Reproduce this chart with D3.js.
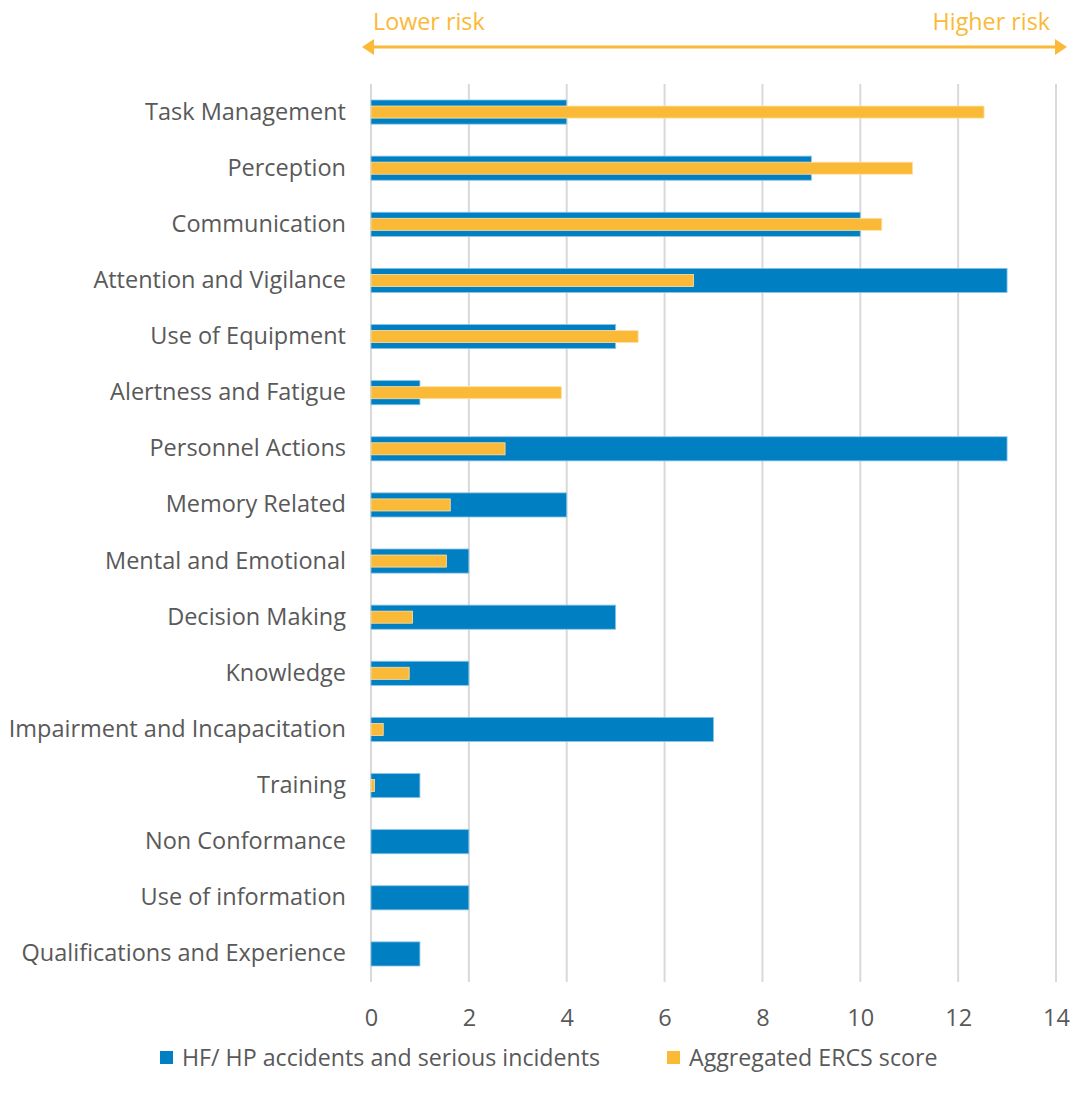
<!DOCTYPE html>
<html>
<head>
<meta charset="utf-8">
<style>
body { margin: 0; background: #fff; }
.axis .domain { display: none; }
.axis line { display: none; }
</style>
</head>
<body>
<svg width="1075" height="1106"></svg>
<script src="https://d3js.org/d3.v7.min.js"></script>
<script>
var categories = ["Task Management", "Perception", "Communication", "Attention and Vigilance",
  "Use of Equipment", "Alertness and Fatigue", "Personnel Actions", "Memory Related",
  "Mental and Emotional", "Decision Making", "Knowledge", "Impairment and Incapacitation",
  "Training", "Non Conformance", "Use of information", "Qualifications and Experience"];
var accidents = [4, 9, 10, 13, 5, 1, 13, 4, 2, 5, 2, 7, 1, 2, 2, 1];
var ercs = [12.53, 11.07, 10.44, 6.59, 5.46, 3.89, 2.74, 1.62, 1.54, 0.85, 0.78, 0.25, 0.07, 0, 0, 0];
var xTicks = [0, 2, 4, 6, 8, 10, 12, 14];
var seriesNames = ["HF/ HP accidents and serious incidents", "Aggregated ERCS score"];

var blue = "#0080c3", orange = "#fbb938", textColor = "#595959";
var font = "'Open Sans', Lato, sans-serif";

var svg = d3.select("svg"),
    margin = {top: 84, right: 20, bottom: 124, left: 371},
    width = 1056 - margin.left,
    height = 982 - margin.top;
var g = svg.append("g").attr("transform", "translate(" + margin.left + "," + margin.top + ")");

var x = d3.scaleLinear().domain([0, 14]).range([0, width]);
var y = d3.scaleBand().domain(categories).range([0, height]).paddingInner(0.57).paddingOuter(0.285);

// gridlines
g.append("g").selectAll("line")
  .data(xTicks)
  .enter().append("line")
    .attr("x1", function(d) { return x(d); })
    .attr("x2", function(d) { return x(d); })
    .attr("y1", 0)
    .attr("y2", height)
    .attr("stroke", "#d9d9d9")
    .attr("stroke-width", 2);

// blue bars
g.append("g").selectAll("rect")
  .data(categories)
  .enter().append("rect")
    .attr("x", x(0))
    .attr("y", function(d) { return y(d); })
    .attr("width", function(d, i) { return x(accidents[i]) - x(0); })
    .attr("height", y.bandwidth())
    .attr("fill", blue)
    .attr("stroke", "#8cc4e6")
    .attr("stroke-width", 0.8);

// orange bars, thinner, centred on the blue
var oh = y.bandwidth() / 2;
g.append("g").selectAll("rect")
  .data(categories.filter(function(d, i) { return ercs[i] > 0; }))
  .enter().append("rect")
    .attr("x", x(0))
    .attr("y", function(d) { return y(d) + (y.bandwidth() - oh) / 2; })
    .attr("width", function(d) { return x(ercs[categories.indexOf(d)]) - x(0); })
    .attr("height", oh)
    .attr("fill", orange)
    .attr("stroke", "#fde3a8")
    .attr("stroke-width", 0.8);

// axes
g.append("g")
    .attr("class", "axis")
    .attr("transform", "translate(0," + height + ")")
    .call(d3.axisBottom(x).tickValues(xTicks).tickSize(0).tickPadding(27))
  .selectAll("text")
    .attr("fill", textColor)
    .attr("font-family", font)
    .attr("font-size", 23.5);

g.append("g")
    .attr("class", "axis")
    .call(d3.axisLeft(y).tickSize(0).tickPadding(25))
  .selectAll("text")
    .attr("fill", textColor)
    .attr("font-family", font)
    .attr("font-size", 23.5);

// risk arrow
var ay = 47;
svg.append("line")
    .attr("x1", 370).attr("x2", 1058)
    .attr("y1", ay).attr("y2", ay)
    .attr("stroke", orange).attr("stroke-width", 3);
svg.append("path")
    .attr("d", "M362," + ay + "L374," + (ay - 8) + "L374," + (ay + 8) + "Z")
    .attr("fill", orange);
svg.append("path")
    .attr("d", "M1067," + ay + "L1055," + (ay - 8) + "L1055," + (ay + 8) + "Z")
    .attr("fill", orange);
svg.append("text")
    .attr("x", 373).attr("y", 30)
    .attr("fill", orange).attr("font-family", font).attr("font-size", 23.3)
    .text("Lower risk");
svg.append("text")
    .attr("x", 1050).attr("y", 30)
    .attr("text-anchor", "end")
    .attr("fill", orange).attr("font-family", font).attr("font-size", 23.3)
    .text("Higher risk");

// legend
var legend = svg.append("g")
    .attr("font-family", font)
    .attr("font-size", 23.2)
  .selectAll("g")
  .data(seriesNames)
  .enter().append("g")
    .attr("transform", function(d, i) { return "translate(" + (i === 0 ? 160 : 667) + ",1051)"; });
legend.append("rect")
    .attr("width", 13)
    .attr("height", 13)
    .attr("fill", function(d, i) { return i === 0 ? blue : orange; });
legend.append("text")
    .attr("x", 22)
    .attr("y", 7)
    .attr("dy", "0.35em")
    .attr("fill", textColor)
    .text(function(d) { return d; });
</script>
</body>
</html>
